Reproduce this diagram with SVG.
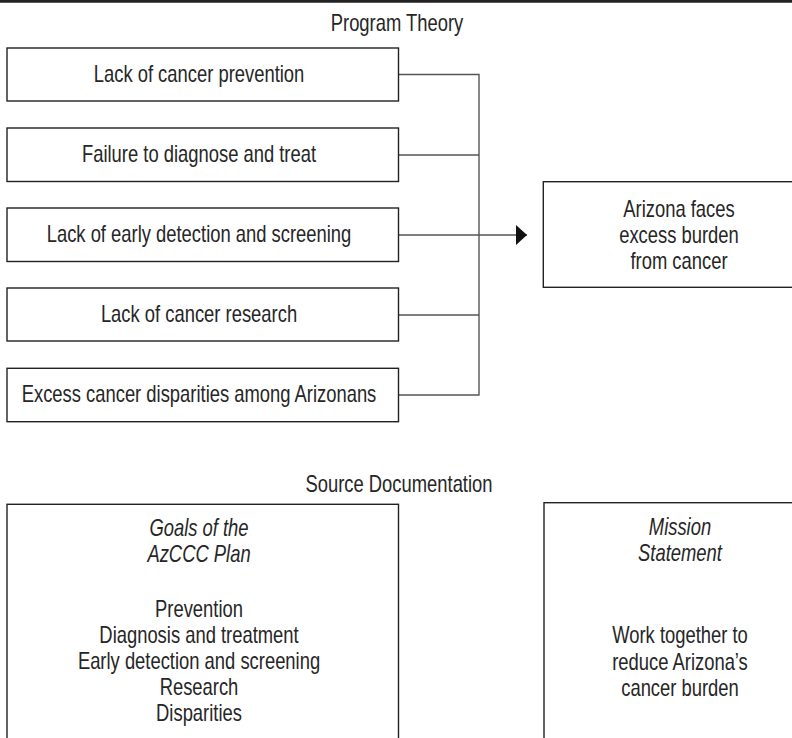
<svg xmlns="http://www.w3.org/2000/svg" width="792" height="738" viewBox="0 0 792 738">
<defs>
<style>
.box{fill:#fff;stroke:#222;stroke-width:1.4}
.t{font-family:"Liberation Sans",Arial,sans-serif;font-size:23px;fill:#262626;text-anchor:middle}
.i{font-style:italic}
.c{fill:none;stroke:#555;stroke-width:1.4}
</style>
<marker id="arr" markerUnits="userSpaceOnUse" markerWidth="12" markerHeight="22" refX="11" refY="10" orient="auto">
<path d="M0,0 L11,10 L0,20 Z" fill="#111"/>
</marker>
</defs>
<rect x="0" y="0" width="792" height="738" fill="#fff"/>
<line x1="0" y1="1.3" x2="792" y2="1.3" stroke="#222" stroke-width="2.8"/>
<text class="t" transform="translate(397,31) scale(0.8,1)">Program Theory</text>

<g id="connectors">
<polyline class="c" points="398.5,74.5 479,74.5 479,395 398.5,395"/>
<line class="c" x1="398.5" y1="155" x2="479" y2="155"/>
<line class="c" x1="398.5" y1="315" x2="479" y2="315"/>
<line class="c" x1="398.5" y1="235" x2="527" y2="235" marker-end="url(#arr)"/>
</g>

<g id="n1"><rect class="box" x="7" y="48" width="391.5" height="53"/><text class="t" transform="translate(199,82) scale(0.8,1)">Lack of cancer prevention</text></g>
<g id="n2"><rect class="box" x="7" y="128" width="391.5" height="53.5"/><text class="t" transform="translate(199,162) scale(0.8,1)">Failure to diagnose and treat</text></g>
<g id="n3"><rect class="box" x="7" y="208" width="391.5" height="53.5"/><text class="t" transform="translate(199,242) scale(0.8,1)">Lack of early detection and screening</text></g>
<g id="n4"><rect class="box" x="7" y="288" width="391.5" height="53"/><text class="t" transform="translate(199,322) scale(0.8,1)">Lack of cancer research</text></g>
<g id="n5"><rect class="box" x="7" y="368.3" width="391.5" height="53.4"/><text class="t" transform="translate(199,402) scale(0.8,1)">Excess cancer disparities among Arizonans</text></g>

<g id="n6"><rect class="box" x="543.3" y="181.7" width="275" height="105.6"/>
<text class="t" transform="translate(679,217) scale(0.8,1)">Arizona faces</text>
<text class="t" transform="translate(679,243) scale(0.8,1)">excess burden</text>
<text class="t" transform="translate(679,269) scale(0.8,1)">from cancer</text></g>

<text class="t" transform="translate(399,492) scale(0.8,1)">Source Documentation</text>

<g id="n7"><rect class="box" x="7" y="504.3" width="391.5" height="260"/>
<text class="t i" transform="translate(199,536) scale(0.8,1)">Goals of the</text>
<text class="t i" transform="translate(199,561.5) scale(0.8,1)">AzCCC Plan</text>
<text class="t" transform="translate(199,616.5) scale(0.8,1)">Prevention</text>
<text class="t" transform="translate(199,642.5) scale(0.8,1)">Diagnosis and treatment</text>
<text class="t" transform="translate(199,668.5) scale(0.8,1)">Early detection and screening</text>
<text class="t" transform="translate(199,694.5) scale(0.8,1)">Research</text>
<text class="t" transform="translate(199,720.5) scale(0.8,1)">Disparities</text></g>

<g id="n8"><rect class="box" x="544" y="502.7" width="275" height="260"/>
<text class="t i" transform="translate(680,535) scale(0.8,1)">Mission</text>
<text class="t i" transform="translate(680,560.5) scale(0.8,1)">Statement</text>
<text class="t" transform="translate(680,643) scale(0.8,1)">Work together to</text>
<text class="t" transform="translate(680,669.5) scale(0.8,1)">reduce Arizona’s</text>
<text class="t" transform="translate(680,696) scale(0.8,1)">cancer burden</text></g>
</svg>
